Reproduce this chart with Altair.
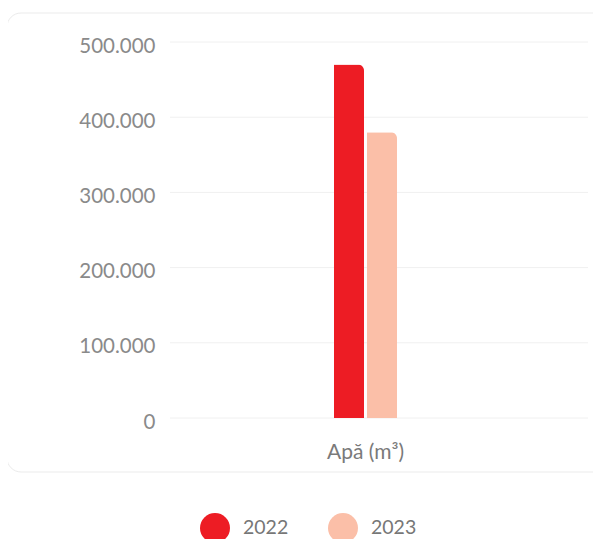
import altair as alt
import pandas as pd

categories = ["Apă (m³)"]
years = ["2022", "2023"]
values_2022 = [470000]
values_2023 = [380000]
y_ticks = [0, 100000, 200000, 300000, 400000, 500000]
colors = ["#ED1C24", "#FBBFA8"]

rows = []
for i, c in enumerate(categories):
    rows.append({"cat": c, "year": years[0], "val": values_2022[i]})
    rows.append({"cat": c, "year": years[1], "val": values_2023[i]})
df = pd.DataFrame(rows)
grid_df = pd.DataFrame({"val": y_ticks})

FONT = "Lato"
yscale = alt.Scale(domain=[0, 500000])
yaxis = alt.Axis(values=y_ticks, domain=False, ticks=False, grid=False,
                 labelPadding=15, labelFontSize=20.5, labelColor="#8a8a8a",
                 labelFont=FONT, zindex=1, labelOffset=4,
                 labelExpr="datum.value == 0 ? '0' : format(datum.value/1000, 'd') + '.000'")

card = alt.Chart(pd.DataFrame({"a": [0]})).mark_rect(
    fill="white", stroke="#ebebeb", strokeWidth=1, cornerRadius=14
).encode(
    x=alt.value(-163), x2=alt.value(470), y=alt.value(-29), y2=alt.value(430)
)

grid = alt.Chart(grid_df).mark_rule(color="#f0f0f0", strokeWidth=1).encode(
    y=alt.Y("val:Q", title=None, scale=yscale, axis=yaxis),
    x=alt.value(0), x2=alt.value(418)
)

bars = alt.Chart(df).mark_bar(cornerRadiusTopRight=6).encode(
    x=alt.X("cat:N", title=None,
            scale=alt.Scale(paddingInner=0, paddingOuter=0, range=[164, 227]),
            axis=alt.Axis(labelAngle=0, domain=False, ticks=False, grid=False,
                          labelPadding=23, labelFontSize=21, labelColor="#7a7a7a",
                          labelFont=FONT, zindex=1)),
    xOffset=alt.XOffset("year:N", scale=alt.Scale(paddingInner=0.0909, paddingOuter=0)),
    y=alt.Y("val:Q", title=None, scale=yscale, axis=yaxis),
    color=alt.Color("year:N", title=None,
                    scale=alt.Scale(domain=years, range=colors),
                    legend=alt.Legend(orient="none", legendX=30, legendY=471,
                                      direction="horizontal", symbolType="circle",
                                      symbolSize=900, symbolStrokeWidth=0,
                                      labelFontSize=19.5, labelColor="#777777",
                                      labelFont=FONT, labelOffset=13,
                                      columnPadding=39, padding=0)),
)

chart = alt.layer(card, grid, bars).properties(
    width=418, height=376,
    padding={"left": 162, "top": 34, "right": 5, "bottom": 121},
    autosize=alt.AutoSizeParams(type="none"),
).configure_view(stroke=None)

chart.save("out.html", embed_options={"renderer": "svg", "actions": False})
